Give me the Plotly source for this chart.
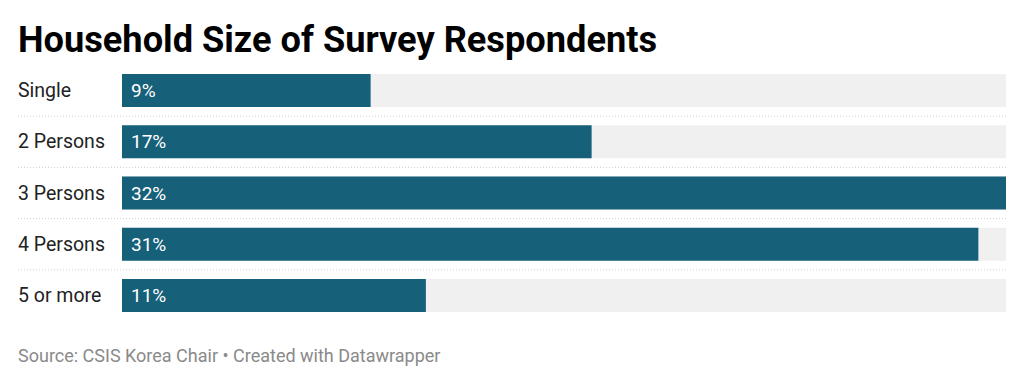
import plotly.graph_objects as go

categories = ["Single", "2 Persons", "3 Persons", "4 Persons", "5 or more"]
values = [9, 17, 32, 31, 11]
labels = ["9%", "17%", "32%", "31%", "11%"]

W, H = 1024, 383
ml, mr, mt, mb = 18, 18, 65, 62
plot_w = W - ml - mr
plot_h = H - mt - mb
x0 = 104 / plot_w
vmax = max(values)
ypos = list(range(len(categories)))

fig = go.Figure()
fig.add_trace(go.Bar(
    y=ypos, x=[vmax] * len(values), orientation="h",
    marker=dict(color="#f0f0f0", line=dict(width=0)),
    width=0.645, hoverinfo="skip", showlegend=False,
))
fig.add_trace(go.Bar(
    y=ypos, x=values, orientation="h",
    marker=dict(color="#176079", line=dict(width=0)),
    width=0.645, hoverinfo="skip", showlegend=False,
))

fig.update_layout(
    barmode="overlay",
    width=W, height=H,
    margin=dict(l=ml, r=mr, t=mt, b=mb),
    paper_bgcolor="white", plot_bgcolor="white",
    xaxis=dict(domain=[x0, 1], range=[0, vmax], visible=False, fixedrange=True),
    yaxis=dict(range=[len(categories) - 0.5, -0.5], visible=False, fixedrange=True),
    title=dict(text="<b>Household Size of Survey Respondents</b>",
               x=18 / W, xanchor="left", xref="container",
               y=1 - 39 / H, yanchor="middle", yref="container",
               font=dict(family="Roboto", size=36.2, color="#000000")),
    showlegend=False,
)

for i, (c, lab) in enumerate(zip(categories, labels)):
    fig.add_annotation(x=0, xref="paper", xanchor="left", xshift=-2, y=i, yref="y",
                       text=c, showarrow=False,
                       font=dict(family="Roboto", size=19.5, color="#222222"))
    fig.add_annotation(x=0, xref="x", xanchor="left", xshift=7, y=i, yref="y",
                       text=lab, showarrow=False,
                       font=dict(family="Roboto", size=19, color="#ffffff"))

for i in range(len(categories) - 1):
    fig.add_shape(type="line", xref="paper", yref="y", x0=0, x1=1,
                  y0=i + 0.5, y1=i + 0.5,
                  line=dict(color="#cfcfcf", width=1, dash="1px,2px"))

fig.add_annotation(x=0, xref="paper", xanchor="left", xshift=-2,
                   y=-34 / plot_h, yref="paper", yanchor="middle",
                   text="Source: CSIS Korea Chair • Created with Datawrapper",
                   showarrow=False,
                   font=dict(family="Roboto", size=18, color="#8a8a8a"))

fig.write_html("out.html", config={"displayModeBar": False},
               post_script="document.body.style.margin='0';")
